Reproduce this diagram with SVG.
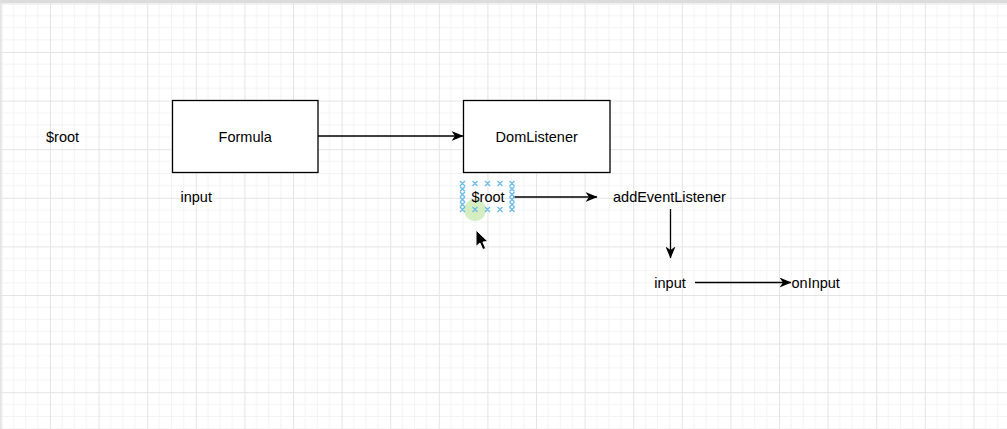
<svg xmlns="http://www.w3.org/2000/svg" width="1007" height="429" viewBox="0 0 1007 429">
  <style>
    .lbl { font-family: "Liberation Sans", Arial, Helvetica, sans-serif; font-size: 14.5px; fill: #000; }
    .box { fill: #fff; stroke: #000; stroke-width: 1.3; }
    .edge { stroke: #000; stroke-width: 1.3; fill: none; marker-end: url(#arrow); }
    .handle { stroke: #6bbbe8; stroke-width: 1.3; fill: none; }
  </style>
  <defs>
    <pattern id="grid" x="1.4" y="3.4" width="48.6" height="48.6" patternUnits="userSpaceOnUse">
      <path d="M12.15 0V48.6M24.3 0V48.6M36.45 0V48.6M0 12.15H48.6M0 24.3H48.6M0 36.45H48.6" stroke="#f3f3f3" stroke-width="1" fill="none"/>
      <path d="M0.5 0V48.6M0 0.5H48.6" stroke="#e4e4e4" stroke-width="1" fill="none"/>
    </pattern>
    <marker id="arrow" viewBox="0 0 12 10" refX="11.5" refY="5" markerWidth="12" markerHeight="10" markerUnits="userSpaceOnUse" orient="auto">
      <path d="M0 0 L12 5 L0 10 L3.5 5 Z" fill="#000"/>
    </marker>
  </defs>

  <rect width="1007" height="429" fill="#fff"/>
  <rect width="1007" height="429" fill="url(#grid)"/>
  <rect x="0" y="0" width="1007" height="3" fill="#dcdcdc"/>
  <rect x="0" y="0" width="1" height="429" fill="#e2e2e2"/>

  <g id="edges">
    <line class="edge" x1="318" y1="136" x2="463" y2="136"/>
    <line class="edge" x1="513" y1="197" x2="597" y2="197"/>
    <line class="edge" x1="670.5" y1="209" x2="670.5" y2="258"/>
    <line class="edge" x1="695" y1="282.5" x2="791" y2="282.5"/>
  </g>

  <g id="root-left">
    <text class="lbl" x="46" y="142">$root</text>
  </g>

  <g id="formula">
    <rect class="box" x="172.5" y="100.5" width="145.5" height="72"/>
    <text class="lbl" x="245.2" y="142" text-anchor="middle">Formula</text>
  </g>

  <g id="domlistener">
    <rect class="box" x="463.5" y="100.5" width="146.5" height="72"/>
    <text class="lbl" x="536.7" y="142" text-anchor="middle">DomListener</text>
  </g>

  <g id="input-formula">
    <text class="lbl" x="180.5" y="202">input</text>
  </g>

  <g id="root-selected">
    <circle cx="475" cy="210" r="11" fill="#b9e59a" fill-opacity="0.6"/>
    <g class="handle">
      <path d="M460 181l5 5m0-5l-5 5M472.5 181l5 5m0-5l-5 5M485 181l5 5m0-5l-5 5M497.5 181l5 5m0-5l-5 5M509.5 181l5 5m0-5l-5 5"/>
      <path d="M460 207l5 5m0-5l-5 5M472.5 207l5 5m0-5l-5 5M485 207l5 5m0-5l-5 5M497.5 207l5 5m0-5l-5 5M509.5 207l5 5m0-5l-5 5"/>
      <path d="M460 186.5l5 5m0-5l-5 5M460 192l5 5m0-5l-5 5M460 197l5 5m0-5l-5 5M460 202l5 5m0-5l-5 5"/>
      <path d="M509.5 186.5l5 5m0-5l-5 5M509.5 192l5 5m0-5l-5 5M509.5 197l5 5m0-5l-5 5M509.5 202l5 5m0-5l-5 5"/>
    </g>
    <text class="lbl" x="471.5" y="202">$root</text>
  </g>

  <g id="addeventlistener">
    <text class="lbl" x="613" y="202">addEventListener</text>
  </g>

  <g id="input-event">
    <text class="lbl" x="654.3" y="287.5">input</text>
  </g>

  <g id="oninput">
    <text class="lbl" x="791.5" y="287.5">onInput</text>
  </g>

  <g id="cursor">
    <path d="M476 230 L476 246.5 L479.9 243 L482.8 249.6 L485.7 248.4 L482.9 242 L488 241.6 Z" fill="#000" stroke="#fff" stroke-width="1"/>
  </g>
</svg>
